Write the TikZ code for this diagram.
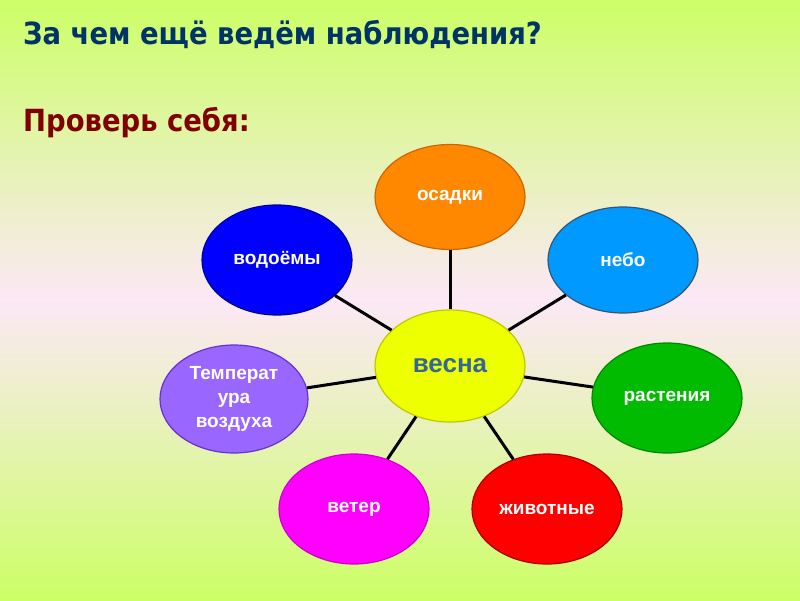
\documentclass[tikz,border=0pt]{standalone}
\usepackage{fontspec}
\setmainfont{Liberation Sans}
\newfontfamily\titlefont{DejaVu Sans Condensed}
\usetikzlibrary{shapes.geometric}
\definecolor{bgedge}{HTML}{CCFF66}
\definecolor{bgmid}{HTML}{FCE8F6}
\definecolor{titleblue}{HTML}{003366}
\definecolor{titlered}{HTML}{800000}
\definecolor{vesnatext}{HTML}{336699}
\tikzset{
  bubble/.style={ellipse, inner sep=0pt, minimum width=150pt, minimum height=108pt,
    line width=1.2pt, text=white, align=center,
    font=\fontsize{19}{24}\selectfont\bfseries},
  spoke/.style={line width=3pt, black},
  heading/.style={anchor=base west, inner sep=0pt, font=\titlefont\fontsize{30.5}{35}\selectfont\bfseries}
}
\begin{document}
\begin{tikzpicture}[x=1pt,y=-1pt]
\useasboundingbox (0,0) rectangle (800,600);
\shade[top color=bgedge, bottom color=bgmid] (0,0) rectangle (800,300);
\shade[top color=bgmid, bottom color=bgedge] (0,300) rectangle (800,600);
\node[heading, text=titleblue] (title) at (23,44) {За чем ещё ведём наблюдения?};
\node[heading, text=titlered] (check) at (23,131) {Проверь себя:};
\node[bubble, fill={rgb,255:red,255;green,136;blue,0}, draw={rgb,255:red,204;green,102;blue,0}, minimum height=105pt] (osadki) at (450,197) {осадки};
\node[bubble, fill={rgb,255:red,0;green,153;blue,255}, draw={rgb,255:red,51;green,85;blue,119}, minimum height=106pt] (nebo) at (623,260) {небо};
\node[bubble, fill={rgb,255:red,0;green,0;blue,255}, draw={rgb,255:red,0;green,0;blue,153}, minimum height=110pt] (vodoemy) at (277,260) {водоёмы};
\node[bubble, fill={rgb,255:red,238;green,255;blue,0}, draw={rgb,255:red,190;green,200;blue,0}, minimum height=112pt, text=vesnatext, font=\fontsize{26}{30}\selectfont\bfseries] (vesna) at (450,366) {весна};
\node[bubble, fill={rgb,255:red,153;green,102;blue,255}, draw={rgb,255:red,102;green,51;blue,204}, minimum width=148pt, font=\fontsize{19}{24}\selectfont\bfseries] (temp) at (234,399) {Температ\\ура\\воздуха};
\node[bubble, fill={rgb,255:red,0;green,187;blue,0}, draw={rgb,255:red,0;green,136;blue,0}, minimum height=110pt] (rast) at (667,398) {растения};
\node[bubble, fill={rgb,255:red,255;green,0;blue,255}, draw={rgb,255:red,204;green,0;blue,204}, minimum height=110pt] (veter) at (354,509) {ветер};
\node[bubble, fill={rgb,255:red,255;green,0;blue,0}, draw={rgb,255:red,170;green,0;blue,0}, minimum height=110pt] (zhiv) at (547,509) {животные};
\draw[spoke] (vesna) -- (osadki);
\draw[spoke] (vesna) -- (nebo);
\draw[spoke] (vesna) -- (vodoemy);
\draw[spoke] (vesna) -- (temp);
\draw[spoke] (vesna) -- (rast);
\draw[spoke] (vesna) -- (veter);
\draw[spoke] (vesna) -- (zhiv);
\end{tikzpicture}
\end{document}
